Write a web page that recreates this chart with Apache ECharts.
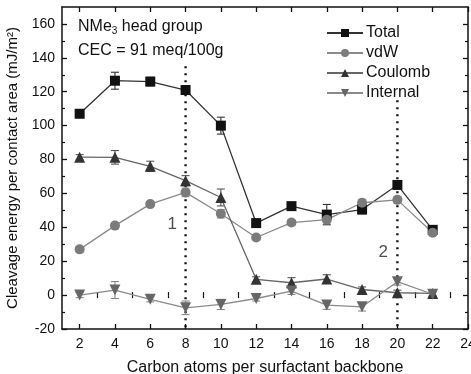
<!DOCTYPE html>
<html>
<head>
<meta charset="utf-8">
<script src="https://cdn.jsdelivr.net/npm/echarts@6/dist/echarts.min.js"></script>
<style>
  html, body { margin: 0; padding: 0; background: #fff; }
  #chart { width: 471px; height: 374px; }
</style>
</head>
<body>
<div id="chart"></div>
<script>
// Carbon atoms per surfactant backbone
const carbons = [2, 4, 6, 8, 10, 12, 14, 16, 18, 20, 22];

// Cleavage energy components (mJ/m^2) and their error half-widths
const totalVals    = [107, 126.5, 126, 121, 100, 42.5, 52.5, 47.5, 50.5, 65, 38.5];
const totalErr     = [1, 5, 2.5, 2.5, 5, 1.5, 1.5, 6, 2.5, 2, 1.5];
const vdwVals      = [27, 41, 53.7, 60.6, 48, 34, 42.8, 44.5, 54.5, 56.2, 36.8];
const vdwErr       = [1.5, 1.5, 1.5, 2.5, 2.5, 1.5, 1.5, 2, 2, 2, 1.5];
const coulombVals  = [81.4, 81.3, 76, 67.5, 57.6, 9.3, 7.3, 9.5, 3.3, 1.4, 1];
const coulombErr   = [1.5, 4, 3, 3, 5, 1.5, 3, 2.5, 1.5, 1.5, 1.5];
const internalVals = [0, 3, -2.5, -7.5, -5.5, -2, 2.4, -5.9, -6.9, 7.9, 0.5];
const internalErr  = [1.5, 5, 1.5, 4, 3, 1.5, 2, 2.5, 2.5, 2, 1.5];

// Axis tick values
const xLabels = [2, 4, 6, 8, 10, 12, 14, 16, 18, 20, 22, 24];
const xMinor  = [3, 5, 7, 9, 11, 13, 15, 17, 19, 21, 23];
const yLabels = [-20, 0, 20, 40, 60, 80, 100, 120, 140, 160];
const yMinor  = [-10, 10, 30, 50, 70, 90, 110, 130, 150];

// Regime boundaries (dotted lines) and their tags
const dividerX   = [8, 20];
const dividerTop = [135, 115];
const tagText    = ['1', '2'];
const tagPos     = [[7.25, 42], [19.2, 25]];

const seriesNames = ['Total', 'vdW', 'Coulomb', 'Internal'];
const FONT = '"Liberation Sans", Arial, sans-serif';

const styles = [
  { symbol: 'rect',     size: 10, rotate: 0,   fill: '#111', line: '#333', bar: '#333' },
  { symbol: 'circle',   size: 10, rotate: 0,   fill: '#7b7b7b', line: '#8a8a8a', bar: '#999' },
  { symbol: 'triangle', size: 11, rotate: 0,   fill: '#333', line: '#666', bar: '#555' },
  { symbol: 'triangle', size: 11, rotate: 180, fill: '#666', line: '#8a8a8a', bar: '#888' }
];
const valueSets = [totalVals, vdwVals, coulombVals, internalVals];
const errorSets = [totalErr, vdwErr, coulombErr, internalErr];

const chart = echarts.init(document.getElementById('chart'), null, { renderer: 'canvas' });

const X_MIN = 1, X_MAX = 24, Y_MIN = -20, Y_MAX = 170;

function baseX(extra) {
  return Object.assign({
    type: 'value', min: X_MIN, max: X_MAX, gridIndex: 0,
    splitLine: { show: false },
    axisLine: { show: true, onZero: false, lineStyle: { color: '#111', width: 1.5 } },
    axisTick: { show: true, inside: true, length: 5, lineStyle: { color: '#111', width: 1.3 }, customValues: xLabels },
    axisLabel: { show: false }
  }, extra);
}
function baseY(extra) {
  return Object.assign({
    type: 'value', min: Y_MIN, max: Y_MAX, gridIndex: 0,
    splitLine: { show: false },
    axisLine: { show: true, onZero: false, lineStyle: { color: '#111', width: 1.5 } },
    axisTick: { show: true, inside: true, length: 5, lineStyle: { color: '#111', width: 1.3 }, customValues: yLabels },
    axisLabel: { show: false }
  }, extra);
}

const xAxes = [
  baseX({
    position: 'bottom',
    name: 'Carbon atoms per surfactant backbone',
    nameLocation: 'middle', nameGap: 31,
    nameTextStyle: { fontFamily: FONT, fontSize: 16, color: '#111' },
    axisLabel: { show: true, customValues: xLabels, fontFamily: FONT, fontSize: 14, color: '#111', margin: 8 }
  }),
  baseX({ position: 'bottom', axisLine: { show: false }, axisTick: { show: true, inside: true, length: 3, lineStyle: { color: '#111', width: 1.2 }, customValues: xMinor } }),
  baseX({ position: 'top' }),
  baseX({ position: 'top', axisLine: { show: false }, axisTick: { show: true, inside: true, length: 3, lineStyle: { color: '#111', width: 1.2 }, customValues: xMinor } })
];
const yAxes = [
  baseY({
    position: 'left',
    name: 'Cleavage energy per contact area (mJ/m\u00B2)',
    nameLocation: 'middle', nameGap: 38, nameRotate: 90,
    nameTextStyle: { fontFamily: FONT, fontSize: 15, color: '#111' },
    axisLabel: { show: true, customValues: yLabels, fontFamily: FONT, fontSize: 14, color: '#111', margin: 7 }
  }),
  baseY({ position: 'left', axisLine: { show: false }, axisTick: { show: true, inside: true, length: 3, lineStyle: { color: '#111', width: 1.2 }, customValues: yMinor } }),
  baseY({ position: 'right' }),
  baseY({ position: 'right', axisLine: { show: false }, axisTick: { show: true, inside: true, length: 3, lineStyle: { color: '#111', width: 1.2 }, customValues: yMinor } })
];

const series = [];

// Dotted regime boundaries
dividerX.forEach((x, i) => {
  series.push({
    type: 'line', silent: true, symbol: 'none', z: 1,
    data: [[x, dividerTop[i]], [x, Y_MIN]],
    lineStyle: { color: '#111', width: 2.4, type: [2, 5] },
    legendHoverLink: false
  });
});

// Error bars
valueSets.forEach((vals, si) => {
  const errs = errorSets[si];
  series.push({
    type: 'custom', z: 3, silent: true,
    data: carbons.map((c, i) => [c, vals[i] - errs[i], vals[i] + errs[i]]),
    renderItem: function (params, api) {
      const lo = api.coord([api.value(0), api.value(1)]);
      const hi = api.coord([api.value(0), api.value(2)]);
      const w = 4;
      const st = { stroke: styles[si].bar, lineWidth: 1.1 };
      return {
        type: 'group',
        children: [
          { type: 'line', shape: { x1: lo[0], y1: lo[1], x2: hi[0], y2: hi[1] }, style: st },
          { type: 'line', shape: { x1: lo[0] - w, y1: lo[1], x2: lo[0] + w, y2: lo[1] }, style: st },
          { type: 'line', shape: { x1: hi[0] - w, y1: hi[1], x2: hi[0] + w, y2: hi[1] }, style: st }
        ]
      };
    }
  });
});

// Data lines with markers
valueSets.forEach((vals, si) => {
  const s = styles[si];
  series.push({
    name: seriesNames[si],
    type: 'line', z: 4,
    data: carbons.map((c, i) => [c, vals[i]]),
    symbol: s.symbol, symbolSize: s.size, symbolRotate: s.rotate,
    showAllSymbol: true,
    itemStyle: { color: s.fill, borderWidth: 0 },
    lineStyle: { color: s.line, width: 1.3 }
  });
});

// Regime tags
series.push({
  type: 'scatter', symbolSize: 0, silent: true, z: 5,
  data: tagPos.map((p, i) => ({ value: p, name: tagText[i] })),
  label: { show: true, position: 'inside', formatter: '{b}', fontFamily: FONT, fontSize: 17, color: '#222' }
});

chart.setOption({
  animation: false,
  backgroundColor: '#fff',
  grid: { left: 62, right: 3, top: 7, bottom: 45, containLabel: false, outerBoundsMode: 'none' },
  xAxis: xAxes,
  yAxis: yAxes,
  legend: {
    data: seriesNames.map((n, i) => ({ name: n, itemStyle: { color: styles[i].fill }, lineStyle: { color: styles[i].line } })),
    orient: 'vertical',
    left: 321, top: 20,
    itemWidth: 36, itemHeight: 10, itemGap: 4,
    textStyle: { fontFamily: FONT, fontSize: 16, color: '#111', padding: [0, 0, 0, -2] },
    selectedMode: false
  },
  graphic: [
    {
      type: 'text', left: 78, top: 19,
      style: {
        text: '{a|NMe}{s|3}{a| head group}',
        rich: {
          a: { fontFamily: FONT, fontSize: 16, fill: '#111' },
          s: { fontFamily: FONT, fontSize: 10, fill: '#111', padding: [8, 0, 0, 0] }
        }
      }
    },
    {
      type: 'text', left: 78, top: 43,
      style: { text: 'CEC = 91 meq/100g', fontFamily: FONT, fontSize: 16, fill: '#111' }
    }
  ],
  series: series
});
</script>
</body>
</html>
